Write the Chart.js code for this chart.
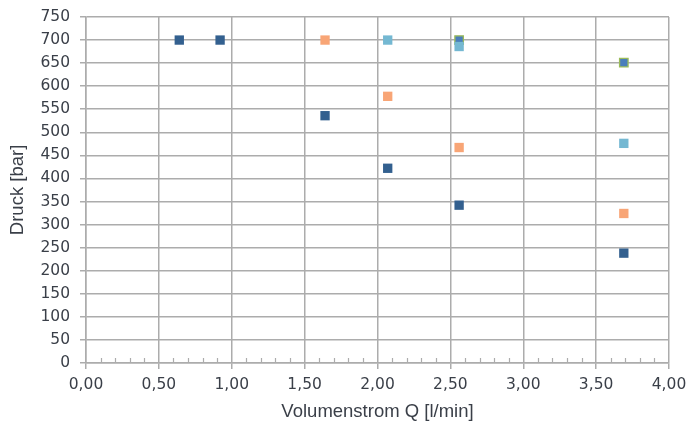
<!DOCTYPE html>
<html>
<head>
<meta charset="utf-8">
<script src="https://cdn.jsdelivr.net/npm/chart.js@4"></script>
<style>
  html, body { margin: 0; padding: 0; background: #fff; overflow: hidden; }
  canvas { display: block; }
</style>
</head>
<body>
<canvas id="druckChart" width="687" height="423"></canvas>
<script>
// Data
const darkQ = [0.64, 0.92, 1.64, 2.07, 2.56, 3.69];
const darkP = [700, 700, 536, 422, 342, 238];
const orangeQ = [1.64, 2.07, 2.56, 3.69];
const orangeP = [700, 578, 467, 324];
const lightQ = [2.07, 2.56, 3.69];
const lightP = [700, 686, 476];
const greenQ = [2.56, 3.69];
const greenP = [700, 651];
const minorTicks = [0.1, 0.2, 0.3, 0.4, 0.6, 0.7, 0.8, 0.9, 1.1, 1.2, 1.3, 1.4, 1.6, 1.7, 1.8, 1.9,
  2.1, 2.2, 2.3, 2.4, 2.6, 2.7, 2.8, 2.9, 3.1, 3.2, 3.3, 3.4, 3.6, 3.7, 3.8, 3.9];

const colors = {
  dark: '#33608f',
  orange: '#f8a576',
  light: '#74b8d2',
  blue: '#4a7ebb',
  green: '#9bbb59',
  grid: '#acacac',
  text: '#3a3f48'
};

const toPoints = (xs, ys) => xs.map((x, i) => ({ x: x, y: ys[i] }));

const mkSet = (label, xs, ys, fill, border, bw, r) => ({
  label: label,
  data: toPoints(xs, ys),
  backgroundColor: fill,
  borderColor: border,
  borderWidth: bw,
  pointStyle: 'rect',
  pointRadius: r,
  pointHoverRadius: r
});

// minor ticks pointing up from the x axis
const minorTickPlugin = {
  id: 'minorTicks',
  afterDraw(chart) {
    const { ctx, scales: { x }, chartArea } = chart;
    ctx.save();
    ctx.strokeStyle = colors.grid;
    ctx.lineWidth = 1.2;
    ctx.beginPath();
    minorTicks.forEach(v => {
      const px = Math.round(x.getPixelForValue(v)) + 0.5;
      ctx.moveTo(px, chartArea.bottom);
      ctx.lineTo(px, chartArea.bottom - 5);
    });
    ctx.stroke();
    ctx.restore();
  }
};

const tickFont = { family: "'DejaVu Sans', Verdana, sans-serif", size: 15.5 };
const titleFont = { family: "'Liberation Sans', Arial, sans-serif", size: 18.5, lineHeight: 1.0 };

new Chart(document.getElementById('druckChart'), {
  type: 'scatter',
  data: {
    datasets: [
      mkSet('Reihe 1', darkQ, darkP, colors.dark, colors.dark, 0, 6.6),
      mkSet('Reihe 2', orangeQ, orangeP, colors.orange, colors.orange, 0, 6.6),
      mkSet('Reihe 3', lightQ, lightP, colors.light, colors.light, 0, 6.6),
      mkSet('Reihe 4', greenQ, greenP, colors.blue, colors.green, 1.3, 6)
    ]
  },
  options: {
    responsive: false,
    animation: false,
    layout: { autoPadding: false, padding: { top: 17, right: 18, bottom: 2, left: 9 } },
    plugins: {
      legend: { display: false },
      tooltip: { enabled: false }
    },
    scales: {
      x: {
        type: 'linear',
        min: 0,
        max: 4,
        afterFit: (s) => { s.paddingLeft = 0; s.paddingRight = 0; },
        grid: { color: colors.grid, lineWidth: 1.5, tickLength: 6, drawTicks: true },
        border: { color: colors.grid, width: 1.5 },
        ticks: {
          stepSize: 0.5,
          color: colors.text,
          font: tickFont,
          padding: 7,
          maxRotation: 0,
          callback: (v) => v.toFixed(2).replace('.', ',')
        },
        title: {
          display: true,
          text: 'Volumenstrom Q [l/min]',
          color: colors.text,
          font: titleFont,
          padding: { top: 1, bottom: 0 }
        }
      },
      y: {
        min: 0,
        max: 750,
        afterFit: (s) => { s.width = 77; s.paddingTop = 0; s.paddingBottom = 0; },
        grid: { color: colors.grid, lineWidth: 1.5, tickLength: 6 },
        border: { color: colors.grid, width: 1.5 },
        ticks: {
          stepSize: 50,
          color: colors.text,
          font: tickFont,
          padding: 10
        },
        title: {
          display: true,
          text: 'Druck [bar]',
          color: colors.text,
          font: titleFont,
          padding: { top: 0, bottom: 9 }
        }
      }
    }
  },
  plugins: [minorTickPlugin]
});
</script>
</body>
</html>
